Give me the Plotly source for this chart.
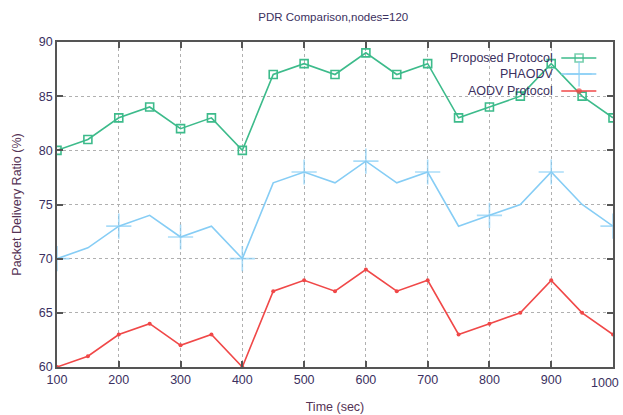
import plotly.graph_objects as go

time_sec = [100, 150, 200, 250, 300, 350, 400, 450, 500, 550, 600, 650, 700, 750, 800, 850, 900, 950, 1000]
proposed = [80, 81, 83, 84, 82, 83, 80, 87, 88, 87, 89, 87, 88, 83, 84, 85, 88, 85, 83]
phaodv = [70, 71, 73, 74, 72, 73, 70, 77, 78, 77, 79, 77, 78, 73, 74, 75, 78, 75, 73]
aodv = [60, 61, 63, 64, 62, 63, 60, 67, 68, 67, 69, 67, 68, 63, 64, 65, 68, 65, 63]
names = ["Proposed Protocol", "PHAODV", "AODV Protocol"]
x_ticks = list(range(100, 1001, 100))
y_ticks = list(range(60, 91, 5))

GREEN = "#3dbb8b"
BLUE = "#86cdf5"
RED = "#f04848"
TXT = "#3b3060"
FONT = "Liberation Sans"

fig = go.Figure()
fig.add_trace(go.Scatter(x=time_sec, y=proposed, mode="lines+markers", name=names[0],
                         line=dict(color=GREEN, width=1.6),
                         marker=dict(symbol="square-open", size=8, color=GREEN, line=dict(width=1.6))))
plus_sizes = [18 if i % 2 == 0 else 0 for i in range(len(time_sec))]
fig.add_trace(go.Scatter(x=time_sec, y=phaodv, mode="lines+markers", name=names[1],
                         line=dict(color=BLUE, width=1.6),
                         marker=dict(symbol="cross-thin-open", size=plus_sizes, color=BLUE, line=dict(width=1.6, color=BLUE))))
fig.add_trace(go.Scatter(x=time_sec, y=aodv, mode="lines+markers", name=names[2],
                         line=dict(color=RED, width=1.6),
                         marker=dict(symbol="circle", size=4, color=RED)))

# custom legend (text right-aligned, sample on the right) on a hidden overlay axis
leg_y = [0.951, 0.9015, 0.849]
leg_styles = [
    dict(color=GREEN, symbol="square-open", size=8),
    dict(color=BLUE, symbol="cross-thin-open", size=18),
    dict(color=RED, symbol="circle", size=4),
]
for nm, yy, st in zip(names, leg_y, leg_styles):
    fig.add_trace(go.Scatter(x=[0.907, 0.939, 0.970], y=[yy, yy, yy], xaxis="x2", yaxis="y2",
                             mode="lines+markers", showlegend=False, hoverinfo="skip",
                             line=dict(color=st["color"], width=1.6),
                             marker=dict(symbol=st["symbol"], size=[0, st["size"], 0], color=st["color"],
                                         line=dict(width=1.6, color=st["color"]))))
    fig.add_annotation(x=0.895, y=yy, xref="paper", yref="paper", text=nm, showarrow=False,
                       xanchor="right", yanchor="middle", font=dict(family=FONT, size=12.5, color=TXT))

axis_common = dict(showline=True, linecolor="#555555", linewidth=1.5, mirror="ticks",
                   ticks="inside", ticklen=6, tickcolor="#555555", tickwidth=1.5,
                   showgrid=True, gridcolor="#b0b0b0", griddash="dot", gridwidth=1,
                   zeroline=False, automargin=False,
                   tickfont=dict(family=FONT, size=12.5, color=TXT))

# last x tick label drawn as annotation so it may overhang the right edge of the plot
x_text = [str(v) for v in x_ticks[:-1]] + [""]
fig.add_annotation(x=x_ticks[-1], y=0, xref="x", yref="paper", yshift=-16, xshift=8,
                   text=str(x_ticks[-1]), showarrow=False, xanchor="right", yanchor="middle",
                   font=dict(family=FONT, size=12.5, color=TXT))

fig.update_layout(
    width=623, height=415,
    margin=dict(l=57, r=10, t=42, b=48),
    plot_bgcolor="white", paper_bgcolor="white",
    showlegend=False,
    title=dict(text="PDR Comparison,nodes=120", x=0.535, xanchor="center", y=0.958, yanchor="middle",
               font=dict(family=FONT, size=11.5, color=TXT)),
    xaxis=dict(range=[100, 1000], tickvals=x_ticks, ticktext=x_text,
               title=dict(text="Time (sec)", font=dict(family=FONT, size=12.5, color="#553355"), standoff=16),
               **axis_common),
    yaxis=dict(range=[60, 90], tickvals=y_ticks,
               title=dict(text="Packet Delivery Ratio (%)", font=dict(family=FONT, size=12.5, color="#553355"), standoff=14),
               **axis_common),
    xaxis2=dict(range=[0, 1], overlaying="x", visible=False, fixedrange=True),
    yaxis2=dict(range=[0, 1], overlaying="y", visible=False, fixedrange=True),
)

fig.write_html("out.html")
